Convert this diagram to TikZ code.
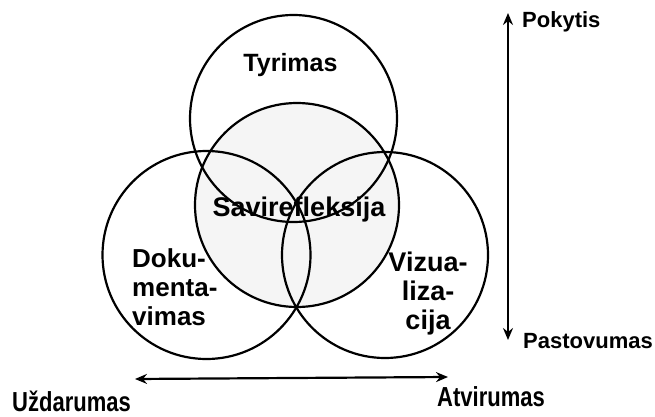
\documentclass[tikz,border=0pt]{standalone}
\usepackage{fontspec}
\setmainfont{Liberation Sans}
\newfontfamily\narrowfont{Liberation Sans}[FakeStretch=0.8]
\usepackage{tikz}
\usetikzlibrary{arrows.meta,
  positioning}

\begin{document}
\begin{tikzpicture}[x=1pt, y=-1pt,
  ring/.style={
    draw,
    circle,
    line width=2.2pt,
    inner sep=0pt,
    minimum size=#1
  },
  word/.style={
    font=\fontsize{#1}{29}\selectfont\bfseries,
    inner sep=0pt
  },
  narrowword/.style={
    font=\fontsize{#1}{30}\selectfont\narrowfont\bfseries,
    inner sep=0pt
  },
  axis/.style={
    line width=2.2pt,
    {Stealth[length=12pt,width=10pt,inset=4pt]}-{Stealth[length=12pt,width=10pt,inset=4pt]}
  }]

\useasboundingbox (0,0) rectangle (655,417);

% shaded middle circle
\node[ring=204, fill=black!4] (sav) at (297,205) {};

% top, left and right circles
\node[ring=207] (tyr) at (293.5,118.5) {};
\node[ring=208] (dok) at (206.5,255) {};
\node[ring=206] (viz) at (385,255) {};

% circle labels
\node[word=25, anchor=base] (tyrlabel) at (290.5,72) {Tyrimas};
\node[word=27, anchor=base] (savlabel) at (299,216) {Savirefleksija};
\node[word=26, align=left, anchor=north west] (doklabel) at (132,248) {Doku-\\menta-\\vimas};
\node[word=27, align=center, anchor=north] (vizlabel) at (428,252) {Vizua-\\liza-\\cija};

% horizontal axis
\coordinate (closed) at (135,379);
\coordinate (open) at (448,377);
\draw[axis] (closed) -- (open);
\node[narrowword=27.5, anchor=base west] (closedlabel) at (12,411) {Uždarumas};
\node[narrowword=27.5, anchor=base west] (openlabel) at (437,406) {Atvirumas};

% vertical axis
\coordinate (change) at (508,13);
\coordinate (stable) at (508,340);
\draw[axis] (stable) -- (change);
\node[word=22, anchor=base west] (changelabel) at (522,28) {Pokytis};
\node[word=22, anchor=base west] (stablelabel) at (523,348) {Pastovumas};

\end{tikzpicture}
\end{document}
